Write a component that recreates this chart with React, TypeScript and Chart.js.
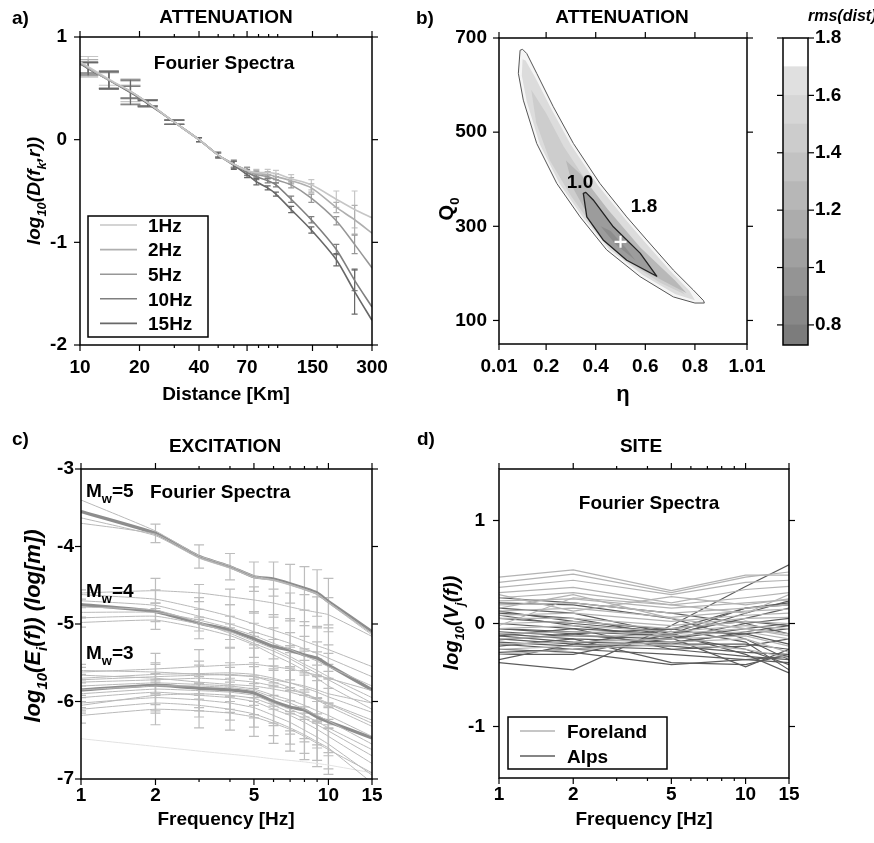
import React, { useEffect, useRef } from 'react';
import { Chart, registerables } from 'chart.js';
Chart.register(...registerables);

const W = 874;
const H = 843;
const FONT = '"Liberation Sans", Arial, Helvetica, sans-serif';
Chart.defaults.font.family = FONT;
Chart.defaults.color = '#000';

// ---------------- a) ATTENUATION (distance) ----------------
const A_DIST = [10, 11, 14, 18, 22, 30, 40, 50, 60, 70, 78, 89, 98, 117, 148, 198, 245, 300];
const A_1HZ = [0.76, 0.71, 0.59, 0.47, 0.36, 0.17, 0.0, -0.15, -0.24, -0.30, -0.32, -0.32, -0.33, -0.38, -0.44, -0.58, -0.68, -0.76];
const A_2HZ = [0.75, 0.70, 0.58, 0.47, 0.36, 0.17, 0.0, -0.15, -0.24, -0.30, -0.33, -0.34, -0.36, -0.40, -0.47, -0.66, -0.78, -0.91];
const A_5HZ = [0.75, 0.70, 0.58, 0.47, 0.36, 0.17, 0.0, -0.15, -0.24, -0.30, -0.34, -0.36, -0.39, -0.44, -0.57, -0.79, -1.02, -1.25];
const A_10HZ = [0.74, 0.70, 0.58, 0.46, 0.36, 0.17, 0.0, -0.15, -0.24, -0.32, -0.36, -0.40, -0.44, -0.58, -0.78, -1.07, -1.37, -1.63];
const A_15HZ = [0.74, 0.69, 0.58, 0.46, 0.35, 0.17, 0.0, -0.15, -0.25, -0.34, -0.41, -0.47, -0.53, -0.68, -0.88, -1.17, -1.48, -1.76];
const A_ERR_1HZ = [0, 0.10, 0.06, 0.10, 0.03, 0.02, 0.02, 0.02, 0.03, 0.03, 0.03, 0.03, 0.03, 0.04, 0.05, 0.08, 0.18, 0];
const A_ERR_2HZ = [0, 0.08, 0.08, 0.12, 0.03, 0.02, 0.02, 0.02, 0.03, 0.03, 0.03, 0.03, 0.03, 0.03, 0.04, 0.05, 0.14, 0];
const A_ERR_5HZ = [0, 0.06, 0.08, 0.06, 0.03, 0.02, 0.02, 0.02, 0.03, 0.03, 0.03, 0.02, 0.03, 0.03, 0.04, 0.04, 0.09, 0];
const A_ERR_10HZ = [0, 0.05, 0.09, 0.06, 0.03, 0.02, 0.02, 0.02, 0.04, 0.03, 0.03, 0.02, 0.02, 0.03, 0.03, 0.05, 0.10, 0];
const A_ERR_15HZ = [0, 0.06, 0.08, 0.12, 0.03, 0.02, 0.02, 0.03, 0.04, 0.03, 0.03, 0.02, 0.02, 0.03, 0.03, 0.06, 0.22, 0];
const A_FREQS = ['1Hz', '2Hz', '5Hz', '10Hz', '15Hz'];
const A_XTICKS = [10, 20, 40, 70, 150, 300];
const A_XMINOR = [30, 50, 60, 80, 90, 100, 200];
const A_YTICKS = [-2, -1, 0, 1];

// ---------------- b) ATTENUATION (eta, Q0) ----------------
const B_XTICKS = [0.01, 0.2, 0.4, 0.6, 0.8, 1.01];
const B_YTICKS = [100, 300, 500, 700];
const B_C18 = [[0.095, 674], [0.088, 625], [0.108, 568], [0.162, 476], [0.243, 391], [0.337, 320], [0.444, 250], [0.579, 193], [0.713, 150], [0.80, 137], [0.838, 137], [0.835, 142], [0.793, 165], [0.713, 207], [0.606, 271], [0.525, 320], [0.417, 391], [0.31, 476], [0.229, 554], [0.162, 625], [0.122, 667], [0.105, 676]];
const B_C16 = [[0.105, 655], [0.102, 620], [0.122, 565], [0.175, 474], [0.255, 390], [0.348, 320], [0.454, 252], [0.588, 197], [0.72, 156], [0.80, 143], [0.778, 163], [0.703, 204], [0.597, 267], [0.516, 317], [0.408, 388], [0.301, 472], [0.221, 549], [0.155, 617], [0.117, 652]];
const B_C14 = [[0.14, 590], [0.16, 520], [0.215, 440], [0.30, 365], [0.40, 290], [0.52, 228], [0.66, 180], [0.76, 155], [0.70, 190], [0.58, 250], [0.48, 310], [0.37, 390], [0.27, 470], [0.20, 540]];
const B_C12 = [[0.28, 440], [0.31, 380], [0.404, 290], [0.579, 210], [0.767, 158], [0.72, 185], [0.58, 255], [0.45, 335], [0.34, 410]];
const B_C10 = [[0.35, 370], [0.364, 320], [0.43, 271], [0.525, 228], [0.646, 194], [0.579, 243], [0.471, 299], [0.39, 356], [0.36, 372]];
const B_C09 = [[0.42, 300], [0.48, 262], [0.56, 228], [0.52, 255], [0.46, 290]];
const B_BEST = [{ x: 0.5, y: 267 }];
const CB_EDGES = [0.73, 0.8, 0.9, 1.0, 1.1, 1.2, 1.3, 1.4, 1.5, 1.6, 1.7, 1.8];
const CB_TICKS = [0.8, 1, 1.2, 1.4, 1.6, 1.8];

// ---------------- c) EXCITATION ----------------
const C_FREQ = [1, 2, 3, 4, 5, 6, 7, 8, 9, 10, 15];
const C_XTICKS = [1, 2, 5, 10, 15];
const C_XMINOR = [3, 4, 6, 7, 8, 9];
const C_YTICKS = [-7, -6, -5, -4, -3];
const C_MW5_REF = [-3.55, -3.83, -4.13, -4.26, -4.39, -4.42, -4.48, -4.54, -4.60, -4.71, -5.10];
const C_MW4_REF = [-4.75, -4.84, -4.99, -5.08, -5.19, -5.29, -5.34, -5.40, -5.44, -5.53, -5.85];
const C_MW3_REF = [-5.85, -5.79, -5.83, -5.85, -5.89, -6.00, -6.07, -6.11, -6.20, -6.26, -6.47];
const C_MW5_THIN = [
  [-3.40, -3.80, -4.12, -4.25, -4.38, -4.43, -4.49, -4.55, -4.61, -4.72, -5.12],
  [-3.63, -3.86, -4.15, -4.28, -4.40, -4.44, -4.50, -4.56, -4.62, -4.73, -5.14],
  [-3.70, -3.84, -4.14, -4.27, -4.40, -4.43, -4.49, -4.55, -4.61, -4.72, -5.12],
  [-4.60, -4.57, -4.60, -4.65, -4.69, -4.73, -4.78, -4.82, -4.85, -4.88, -5.16],
];
const C_MW4_THIN = [
  [-4.62, -4.68, -4.80, -4.90, -5.00, -5.08, -5.15, -5.22, -5.28, -5.33, -5.55],
  [-4.70, -4.76, -4.90, -5.00, -5.10, -5.18, -5.25, -5.32, -5.38, -5.44, -5.68],
  [-4.85, -4.85, -4.95, -5.05, -5.15, -5.25, -5.33, -5.41, -5.48, -5.55, -5.80],
  [-4.92, -4.90, -5.00, -5.10, -5.22, -5.32, -5.42, -5.52, -5.60, -5.68, -5.95],
  [-4.98, -4.95, -5.05, -5.15, -5.27, -5.40, -5.50, -5.60, -5.70, -5.80, -6.10],
  [-4.78, -4.82, -4.98, -5.12, -5.25, -5.35, -5.45, -5.55, -5.64, -5.72, -6.02],
];
const C_MW3_THIN = [
  [-5.62, -5.58, -5.55, -5.53, -5.52, -5.55, -5.58, -5.62, -5.66, -5.70, -5.86],
  [-5.70, -5.65, -5.64, -5.63, -5.65, -5.70, -5.76, -5.82, -5.88, -5.94, -6.14],
  [-5.75, -5.72, -5.70, -5.72, -5.75, -5.80, -5.85, -5.90, -5.96, -6.02, -6.24],
  [-5.80, -5.76, -5.78, -5.80, -5.84, -5.92, -5.98, -6.05, -6.12, -6.18, -6.45],
  [-5.90, -5.84, -5.86, -5.88, -5.92, -6.02, -6.10, -6.18, -6.26, -6.34, -6.62],
  [-5.95, -5.88, -5.92, -5.95, -6.00, -6.10, -6.18, -6.27, -6.36, -6.45, -6.80],
  [-6.02, -5.95, -5.98, -6.02, -6.08, -6.18, -6.27, -6.37, -6.46, -6.55, -6.95],
  [-6.10, -6.02, -6.05, -6.10, -6.16, -6.25, -6.34, -6.43, -6.52, -6.60, -7.05],
  [-5.66, -5.70, -5.75, -5.78, -5.80, -5.84, -5.88, -5.93, -5.98, -6.03, -6.28],
  [-5.85, -5.80, -5.80, -5.82, -5.86, -5.95, -6.02, -6.10, -6.18, -6.25, -6.55],
  [-6.18, -6.10, -6.12, -6.15, -6.20, -6.28, -6.36, -6.45, -6.54, -6.62, -6.92],
  [-5.72, -5.68, -5.66, -5.65, -5.68, -5.75, -5.82, -5.90, -5.98, -6.06, -6.32],
  [-6.05, -5.92, -5.90, -5.92, -5.96, -6.05, -6.14, -6.22, -6.30, -6.38, -6.70],
  [-5.60, -5.62, -5.65, -5.66, -5.68, -5.72, -5.76, -5.80, -5.85, -5.90, -6.02],
  [-6.48, -6.58, -6.64, -6.68, -6.71, -6.74, -6.76, -6.78, -6.80, -6.82, -6.92],
];
const C_ERR_MW5 = [0, 0.12, 0.15, 0.17, 0.19, 0.22, 0.25, 0.28, 0.30, 0.30, 0];
const C_ERR_MW5B = [0, 0.16, 0.11, 0.10, 0.17, 0.18, 0.18, 0.20, 0.20, 0.22, 0];
const C_ERR_MW4 = [0.06, 0.12, 0.14, 0.15, 0.16, 0.20, 0.22, 0.25, 0.25, 0.28, 0];
const C_ERR_MW3 = [0.10, 0.20, 0.22, 0.22, 0.25, 0.26, 0.28, 0.30, 0.30, 0.32, 0];

// ---------------- d) SITE ----------------
const D_FREQ = [1, 2, 5, 10, 15];
const D_YTICKS = [-1, 0, 1];
const D_FORELAND = [
  [0.45, 0.52, 0.32, 0.47, 0.47], [0.40, 0.48, 0.30, 0.45, 0.50], [0.35, 0.42, 0.28, 0.40, 0.42],
  [0.30, 0.35, 0.20, 0.33, 0.36], [0.25, 0.30, 0.18, 0.25, 0.30], [0.22, 0.24, 0.15, 0.20, 0.23],
  [0.18, 0.20, 0.10, 0.15, 0.18], [0.12, 0.15, 0.06, 0.12, 0.14], [0.08, 0.10, 0.02, 0.08, 0.10],
  [0.05, 0.05, -0.02, 0.05, 0.06], [0.00, 0.02, -0.05, 0.02, 0.00], [-0.05, -0.02, -0.08, -0.02, -0.05],
  [-0.10, -0.08, -0.10, -0.05, -0.10], [-0.15, -0.12, -0.12, -0.08, -0.15], [-0.20, -0.18, -0.15, -0.12, -0.22],
  [-0.25, -0.22, -0.18, -0.15, -0.28], [-0.30, -0.25, -0.20, -0.25, -0.33], [0.28, 0.12, 0.26, 0.18, 0.24],
  [0.15, 0.28, 0.05, -0.05, -0.12], [-0.02, 0.25, 0.18, 0.10, 0.28],
];
const D_ALPS = [
  [-0.38, -0.45, -0.02, 0.36, 0.57], [0.20, 0.18, 0.05, -0.15, -0.35], [0.15, 0.10, -0.10, -0.30, -0.48],
  [0.10, 0.05, -0.12, -0.25, -0.40], [0.05, 0.00, -0.08, -0.10, -0.20], [0.00, -0.05, -0.10, 0.05, 0.15],
  [-0.05, -0.08, -0.12, 0.10, 0.22], [-0.08, -0.12, -0.15, 0.00, 0.05], [-0.10, -0.15, -0.18, -0.10, -0.05],
  [-0.12, -0.18, -0.20, -0.20, -0.25], [-0.15, -0.20, -0.22, -0.28, -0.30], [-0.18, -0.22, -0.25, -0.32, -0.35],
  [-0.20, -0.25, -0.30, -0.35, -0.38], [-0.22, -0.15, -0.38, -0.40, -0.30], [-0.25, -0.28, -0.40, -0.35, -0.32],
  [-0.28, -0.25, -0.15, -0.05, 0.00], [-0.30, -0.30, -0.10, 0.15, 0.18], [-0.35, -0.20, -0.05, 0.02, -0.02],
  [0.25, 0.20, 0.10, 0.00, -0.10], [0.08, -0.02, -0.14, -0.42, -0.25], [-0.05, -0.10, -0.05, -0.18, -0.45],
  [0.12, 0.02, -0.06, 0.15, 0.20], [-0.16, -0.10, -0.20, -0.08, -0.02], [-0.12, -0.05, -0.25, -0.22, -0.15],
];

// ---------------- styles ----------------
const A_COLORS = ['#c6c6c6', '#afafaf', '#979797', '#7f7f7f', '#686868'];
const CB_COLORS = ['#7c7c7c', '#888888', '#949494', '#a0a0a0', '#acacac', '#b7b7b7', '#c2c2c2', '#cccccc', '#d6d6d6', '#e0e0e0', '#ffffff'];
const TICK_FONT = { family: FONT, size: 19, weight: 'bold' as const };

const pts = (xs: number[], ys: number[]) => xs.map((x, i) => ({ x, y: ys[i] }));

type Seg = [string, number];
function rich(ctx: CanvasRenderingContext2D, segs: Seg[], x: number, y: number, size: number,
  o: { align?: string; italic?: boolean; rotate?: boolean; color?: string } = {}) {
  ctx.save();
  ctx.translate(x, y);
  if (o.rotate) ctx.rotate(-Math.PI / 2);
  const st = (o.italic ? 'italic ' : '') + 'bold ';
  const sub = Math.round(size * 0.66);
  const fnt = (k: number) => st + (k ? sub : size) + 'px ' + FONT;
  let total = 0;
  for (const [t, k] of segs) { ctx.font = fnt(k); total += ctx.measureText(t).width; }
  let cx = o.align === 'left' ? 0 : o.align === 'right' ? -total : -total / 2;
  ctx.fillStyle = o.color || '#000';
  ctx.textAlign = 'left';
  ctx.textBaseline = 'alphabetic';
  const base = size * 0.36;
  for (const [t, k] of segs) {
    ctx.font = fnt(k);
    ctx.fillText(t, cx, base + (k ? size * 0.3 : 0));
    cx += ctx.measureText(t).width;
  }
  ctx.restore();
}
const txt = (ctx: CanvasRenderingContext2D, s: string, x: number, y: number, size: number, o: any = {}) =>
  rich(ctx, [[s, 0]], x, y, size, o);

function legendBox(ctx: CanvasRenderingContext2D, box: number[], items: { label: string; color: string; width: number }[],
  y0: number, dy: number, lx1: number, lx2: number, tx: number, size: number) {
  ctx.save();
  ctx.fillStyle = '#fff';
  ctx.fillRect(box[0], box[1], box[2] - box[0], box[3] - box[1]);
  ctx.strokeStyle = '#000';
  ctx.lineWidth = 1.5;
  ctx.strokeRect(box[0], box[1], box[2] - box[0], box[3] - box[1]);
  items.forEach((it, i) => {
    const y = y0 + i * dy;
    ctx.strokeStyle = it.color;
    ctx.lineWidth = it.width;
    ctx.beginPath(); ctx.moveTo(lx1, y); ctx.lineTo(lx2, y); ctx.stroke();
    txt(ctx, it.label, tx, y, size, { align: 'left' });
  });
  ctx.restore();
}

const framePlugin = {
  id: 'frame',
  afterDatasetsDraw(chart: any, _a: any, opts: any) {
    if (!opts || !opts.show) return;
    const { ctx, chartArea: { left, right, top, bottom }, scales } = chart;
    const x = scales.x, y = scales.y;
    ctx.save();
    ctx.strokeStyle = '#000';
    ctx.lineWidth = 1.5;
    ctx.strokeRect(left, top, right - left, bottom - top);
    ctx.lineWidth = 1.2;
    const seg = (x1: number, y1: number, x2: number, y2: number) => { ctx.beginPath(); ctx.moveTo(x1, y1); ctx.lineTo(x2, y2); ctx.stroke(); };
    (opts.xMajor || []).forEach((v: number) => { const p = x.getPixelForValue(v); seg(p, bottom, p, bottom + 6); seg(p, top, p, top - 6); });
    (opts.xMinor || []).forEach((v: number) => { const p = x.getPixelForValue(v); seg(p, bottom, p, bottom + 3); seg(p, top, p, top - 3); });
    (opts.yMajor || []).forEach((v: number) => { const p = y.getPixelForValue(v); seg(left, p, left - 6, p); seg(right, p, right + 6, p); });
    ctx.restore();
  },
};

const errorBarPlugin = {
  id: 'errbars',
  beforeDatasetsDraw(chart: any) {
    const { ctx, chartArea: a, scales: { x, y } } = chart;
    ctx.save();
    ctx.beginPath(); ctx.rect(a.left, a.top, a.right - a.left, a.bottom - a.top); ctx.clip();
    chart.data.datasets.forEach((ds: any) => {
      if (!ds.errors) return;
      ctx.strokeStyle = ds.errorColor || ds.borderColor;
      ctx.lineWidth = ds.errorWidth || 1.2;
      ds.data.forEach((p: any, i: number) => {
        const e = ds.errors[i];
        if (!e) return;
        const px = x.getPixelForValue(p.x);
        const y1 = y.getPixelForValue(p.y + e), y2 = y.getPixelForValue(p.y - e);
        const cap = ds.wideCapBelow && p.x < ds.wideCapBelow ? 10 : (ds.capHalf || 4);
        ctx.beginPath();
        ctx.moveTo(px, y1); ctx.lineTo(px, y2);
        ctx.moveTo(px - cap, y1); ctx.lineTo(px + cap, y1);
        ctx.moveTo(px - cap, y2); ctx.lineTo(px + cap, y2);
        ctx.stroke();
      });
    });
    ctx.restore();
  },
};

function scaleX(type: string, min: number, max: number, ticks: number[], h: number, pad: number) {
  return {
    type, min, max, position: 'bottom',
    afterBuildTicks: (s: any) => { s.ticks = ticks.map((v) => ({ value: v })); },
    afterFit: (s: any) => { s.height = h; },
    grid: { display: false, drawTicks: false },
    border: { display: false },
    ticks: { autoSkip: false, maxRotation: 0, minRotation: 0, padding: pad, color: '#000', font: TICK_FONT, callback: (v: any) => String(v) },
  };
}
function scaleY(min: number, max: number, ticks: number[], w: number, pad: number, position = 'left') {
  return {
    type: 'linear', min, max, position,
    afterBuildTicks: (s: any) => { s.ticks = ticks.map((v) => ({ value: v })); },
    afterFit: (s: any) => { s.width = w; },
    grid: { display: false, drawTicks: false },
    border: { display: false },
    ticks: { autoSkip: false, padding: pad, color: '#000', font: TICK_FONT, callback: (v: any) => String(v) },
  };
}
function baseOptions(area: number[], yW: number, xH: number, scales: any, frame: any) {
  return {
    responsive: false,
    animation: false,
    events: [],
    layout: { padding: { left: area[0] - yW, top: area[1], right: W - area[2], bottom: H - area[3] - xH } },
    plugins: { legend: { display: false }, tooltip: { enabled: false }, title: { display: false }, frame: { show: true, ...frame } },
    scales,
  };
}
const line = (xs: number[], ys: number[], color: string, width: number, tension: number, extra: any = {}) => ({
  data: pts(xs, ys), showLine: true, borderColor: color, backgroundColor: color, borderWidth: width,
  pointRadius: 0, tension, fill: false, ...extra,
});

function configA(): any {
  const vals = [A_1HZ, A_2HZ, A_5HZ, A_10HZ, A_15HZ];
  const errs = [A_ERR_1HZ, A_ERR_2HZ, A_ERR_5HZ, A_ERR_10HZ, A_ERR_15HZ];
  const deco = {
    id: 'decoA',
    afterDraw(chart: any) {
      const ctx = chart.ctx;
      txt(ctx, 'a)', 12, 17, 19, { align: 'left' });
      txt(ctx, 'ATTENUATION', 226, 16, 19);
      txt(ctx, 'Fourier Spectra', 224, 62, 19);
      rich(ctx, [['log', 0], ['10', 1], ['(D(f', 0], ['k', 1], [',r))', 0]], 33, 191, 19, { rotate: true, italic: true });
      txt(ctx, 'Distance [Km]', 226, 393, 19);
      legendBox(ctx, [88, 216, 208, 337], A_FREQS.map((l, i) => ({ label: l, color: A_COLORS[i], width: 1.6 })),
        225, 24.6, 100, 137, 148, 19);
    },
  };
  return {
    type: 'scatter',
    data: { datasets: vals.map((v, i) => line(A_DIST, v, A_COLORS[i], 1.6, 0.25, { errors: errs[i], wideCapBelow: 35, capHalf: 3 })) },
    options: baseOptions([80, 37, 372, 345], 80, 75, {
      x: scaleX('logarithmic', 10, 300, A_XTICKS, 75, 11),
      y: scaleY(-2, 1, A_YTICKS, 80, 13),
    }, { xMajor: A_XTICKS, xMinor: A_XMINOR, yMajor: A_YTICKS }),
    plugins: [framePlugin, errorBarPlugin, deco],
  };
}

function configB(): any {
  const polys: [number[][], string][] = [
    [B_C18, '#f5f5f5'], [B_C16, '#dcdcdc'], [B_C14, '#cdcdcd'], [B_C12, '#b8b8b8'], [B_C10, '#9c9c9c'], [B_C09, '#8c8c8c'],
  ];
  const under = {
    id: 'contours',
    beforeDatasetsDraw(chart: any) {
      const { ctx, scales: { x, y } } = chart;
      const path = (p: number[][]) => {
        ctx.beginPath();
        p.forEach(([e, q], i) => {
          const px = x.getPixelForValue(e), py = y.getPixelForValue(q);
          if (i === 0) ctx.moveTo(px, py); else ctx.lineTo(px, py);
        });
        ctx.closePath();
      };
      ctx.save();
      ctx.lineJoin = 'round';
      polys.forEach(([p, c]) => { path(p); ctx.fillStyle = c; ctx.fill(); });
      path(B_C18); ctx.strokeStyle = '#555'; ctx.lineWidth = 1; ctx.stroke();
      path(B_C10); ctx.strokeStyle = '#222'; ctx.lineWidth = 1.3; ctx.stroke();
      ctx.restore();
    },
  };
  const deco = {
    id: 'decoB',
    afterDraw(chart: any) {
      const ctx = chart.ctx;
      txt(ctx, 'b)', 416, 17, 19, { align: 'left' });
      txt(ctx, 'ATTENUATION', 622, 16, 19);
      rich(ctx, [['Q', 0], ['0', 1]], 446, 209, 20, { rotate: true });
      txt(ctx, 'η', 623, 393, 22);
      txt(ctx, '1.0', 580, 181, 19);
      txt(ctx, '1.8', 644, 205, 19);
      txt(ctx, 'rms(dist)', 808, 15, 16, { align: 'left', italic: true });
    },
  };
  return {
    type: 'scatter',
    data: { datasets: [{ data: B_BEST, pointStyle: 'cross', pointRadius: 6, borderColor: '#fff', borderWidth: 2.2 }] },
    options: baseOptions([499, 38, 747, 344], 62, 75, {
      x: scaleX('linear', 0.01, 1.01, B_XTICKS, 75, 11),
      y: scaleY(50, 700, B_YTICKS, 62, 12),
    }, { xMajor: B_XTICKS, yMajor: B_YTICKS }),
    plugins: [under, framePlugin, deco],
  };
}

function configBar(): any {
  const datasets = CB_COLORS.map((c, i) => ({
    data: [[CB_EDGES[i], CB_EDGES[i + 1]]], backgroundColor: c, borderWidth: 0,
    barPercentage: 1, categoryPercentage: 1, grouped: false,
  }));
  const yW = 40;
  return {
    type: 'bar',
    data: { labels: ['rms'], datasets },
    options: {
      responsive: false, animation: false, events: [],
      layout: { padding: { left: 783, top: 38, right: W - 808 - yW, bottom: H - 345 } },
      plugins: { legend: { display: false }, tooltip: { enabled: false }, frame: { show: true, yMajor: CB_TICKS } },
      scales: {
        x: { display: false },
        y: scaleY(0.73, 1.8, CB_TICKS, yW, 7, 'right'),
      },
    },
    plugins: [framePlugin],
  };
}

function configC(): any {
  const thin = '#b9b9b9';
  const errC = '#bdbdbd';
  const ds: any[] = [];
  C_MW3_THIN.forEach((v, i) => ds.push(line(C_FREQ, v, i === 14 ? '#e2e2e2' : thin, 1, 0.15,
    i % 2 === 0 && i < 14 ? { errors: C_ERR_MW3, errorColor: errC, capHalf: 5 } : {})));
  C_MW4_THIN.forEach((v, i) => ds.push(line(C_FREQ, v, thin, 1, 0.15,
    i % 2 === 0 ? { errors: C_ERR_MW4, errorColor: errC, capHalf: 5 } : {})));
  C_MW5_THIN.forEach((v, i) => ds.push(line(C_FREQ, v, thin, 1, 0.15,
    i === 3 ? { errors: C_ERR_MW5B, errorColor: errC, capHalf: 5 } : {})));
  ds.push(line(C_FREQ, C_MW3_REF, '#8d8d8d', 3.2, 0.15));
  ds.push(line(C_FREQ, C_MW4_REF, '#8d8d8d', 3.2, 0.15));
  ds.push(line(C_FREQ, C_MW5_REF, '#8d8d8d', 3.2, 0.15, { errors: C_ERR_MW5, errorColor: errC, capHalf: 5 }));
  const deco = {
    id: 'decoC',
    afterDraw(chart: any) {
      const ctx = chart.ctx;
      txt(ctx, 'c)', 12, 438, 19, { align: 'left' });
      txt(ctx, 'EXCITATION', 225, 445, 19);
      rich(ctx, [['M', 0], ['w', 1], ['=5', 0]], 86, 490, 19, { align: 'left' });
      txt(ctx, 'Fourier Spectra', 150, 491, 19, { align: 'left' });
      rich(ctx, [['M', 0], ['w', 1], ['=4', 0]], 86, 590, 19, { align: 'left' });
      rich(ctx, [['M', 0], ['w', 1], ['=3', 0]], 86, 652, 19, { align: 'left' });
      rich(ctx, [['log', 0], ['10', 1], ['(E', 0], ['i', 1], ['(f)) (log[m])', 0]], 32, 626, 22, { rotate: true, italic: true });
      txt(ctx, 'Frequency [Hz]', 226, 818, 19);
    },
  };
  return {
    type: 'scatter',
    data: { datasets: ds },
    options: baseOptions([81, 469, 372, 779], 81, 64, {
      x: scaleX('logarithmic', 1, 15, C_XTICKS, 64, 5),
      y: scaleY(-7, -3, C_YTICKS, 81, 7),
    }, { xMajor: C_XTICKS, xMinor: C_XMINOR, yMajor: C_YTICKS }),
    plugins: [framePlugin, errorBarPlugin, deco],
  };
}

function configD(): any {
  const ds: any[] = [];
  D_FORELAND.forEach((v) => ds.push(line(D_FREQ, v, '#b3b3b3', 1.2, 0)));
  D_ALPS.forEach((v) => ds.push(line(D_FREQ, v, '#5c5c5c', 1.2, 0)));
  const deco = {
    id: 'decoD',
    afterDraw(chart: any) {
      const ctx = chart.ctx;
      txt(ctx, 'd)', 417, 438, 19, { align: 'left' });
      txt(ctx, 'SITE', 641, 445, 19);
      txt(ctx, 'Fourier Spectra', 649, 502, 19);
      rich(ctx, [['log', 0], ['10', 1], ['(V', 0], ['j', 1], ['(f))', 0]], 451, 623, 20, { rotate: true, italic: true });
      txt(ctx, 'Frequency [Hz]', 644, 818, 19);
      legendBox(ctx, [508, 717, 667, 769], [
        { label: 'Foreland', color: '#b3b3b3', width: 1.4 },
        { label: 'Alps', color: '#5c5c5c', width: 1.4 },
      ], 731, 25, 520, 555, 567, 19);
    },
  };
  return {
    type: 'scatter',
    data: { datasets: ds },
    options: baseOptions([499, 469, 789, 778], 62, 65, {
      x: scaleX('logarithmic', 1, 15, C_XTICKS, 65, 5),
      y: scaleY(-1.5, 1.5, D_YTICKS, 62, 14),
    }, { xMajor: C_XTICKS, xMinor: C_XMINOR, yMajor: D_YTICKS }),
    plugins: [framePlugin, deco],
  };
}

export default function App() {
  const r0 = useRef<HTMLCanvasElement>(null);
  const r1 = useRef<HTMLCanvasElement>(null);
  const r2 = useRef<HTMLCanvasElement>(null);
  const r3 = useRef<HTMLCanvasElement>(null);
  const r4 = useRef<HTMLCanvasElement>(null);
  const refs = [r0, r1, r2, r3, r4];
  useEffect(() => {
    const cfgs = [configA(), configB(), configBar(), configC(), configD()];
    const charts = cfgs.map((c, i) => new Chart(refs[i].current as HTMLCanvasElement, c));
    return () => charts.forEach((c) => c.destroy());
  }, []);
  return (
    <div style={{ position: 'absolute', left: 0, top: 0, width: W, height: H, background: '#fff', overflow: 'hidden' }}>
      {refs.map((r, i) => (
        <canvas key={i} ref={r} width={W} height={H} style={{ position: 'absolute', left: 0, top: 0, width: W, height: H }} />
      ))}
    </div>
  );
}
